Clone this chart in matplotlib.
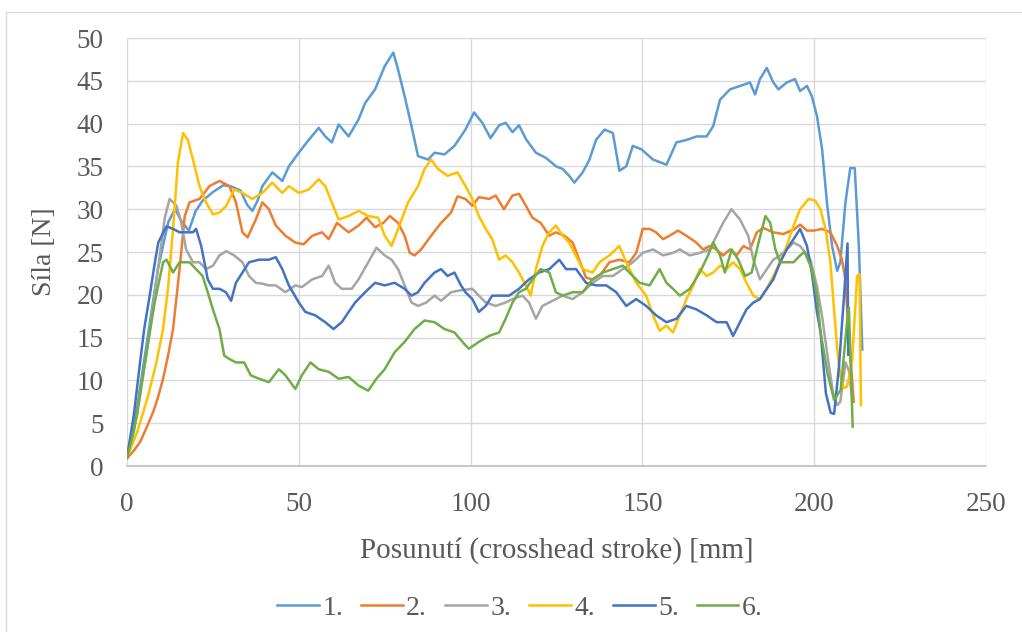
import matplotlib.pyplot as plt
from matplotlib.lines import Line2D

plt.rcParams['font.family'] = ['Liberation Serif', 'DejaVu Serif']

# posunuti [mm] a sila [N] pro jednotlive vzorky 1. az 6.
x1 = [0, 3, 6, 9, 12, 14, 16, 18, 20, 22, 25, 28, 30, 33, 35, 36.5, 38, 39.4, 42.3, 45.2, 47.1, 50,
      52.9, 55.8, 57.7, 59.6, 61.6, 64.5, 67.4, 69.3, 72.2, 75, 77.5, 78.9, 80.8, 82.8, 84.7, 87.6,
      89.5, 92.4, 95.3, 98.5, 101, 103.4, 105.8, 108.3, 110.2, 112.2, 114.1, 116.1, 119, 121.9,
      124.9, 126.8, 128.7, 130.2, 132.6, 134.6, 136.5, 139, 141.4, 143.3, 145.3, 147.2, 149.7,
      153.1, 157, 159.9, 162.9, 165.8, 168.7, 170.6, 172.6, 175.5, 178.4, 181.3, 182.8, 184.2,
      186.2, 188.1, 189.6, 192, 194.4, 195.9, 197.9, 199.3, 200.8, 202.3, 203.7, 205.2, 206.7,
      207.6, 209.1, 210.5, 211.8, 213, 214]
y1 = [1, 7, 15, 23, 28.5, 30, 28.5, 27.5, 29.8, 31, 32, 32.8, 32.7, 32.2, 30.5, 29.8, 31, 32.7, 34.3,
      33.3, 35, 36.6, 38.1, 39.5, 38.5, 37.8, 39.9, 38.5, 40.5, 42.4, 44, 46.7, 48.3, 46.3, 43.2,
      39.7, 36.2, 35.8, 36.6, 36.4, 37.4, 39.3, 41.3, 40.1, 38.3, 39.8, 40.1, 39, 39.8, 38.2, 36.6,
      36, 35, 34.7, 33.9, 33.1, 34.3, 35.8, 38.1, 39.3, 38.9, 34.5, 35, 37.4, 37, 35.8, 35.2, 37.8,
      38.1, 38.5, 38.5, 39.7, 42.8, 44, 44.4, 44.8, 43.4, 45.2, 46.5, 44.8, 44, 44.8, 45.2, 43.8,
      44.4, 43.2, 40.9, 37, 30.8, 25.7, 22.8, 23.8, 30.8, 34.8, 34.8, 25.7, 13.6]

x2 = [0, 2, 3.8, 5.5, 7.6, 9, 10.5, 12, 13.4, 15.3, 16.8, 18.2, 21.1, 24, 26.9, 29.8, 31.7, 33.6,
      35.1, 37.5, 39.4, 41.3, 43.3, 46.1, 49, 51.4, 53.9, 56.8, 58.7, 61.1, 64.5, 67.4, 69.7, 72.2,
      74.6, 76.5, 78.9, 80.8, 82.3, 83.7, 85.6, 88.5, 91.4, 94.3, 96.2, 98.5, 100.5, 102.4, 105.4,
      107.3, 109.7, 112.2, 114.1, 116.1, 118, 120.4, 122.9, 124.8, 127.3, 129.7, 131.6, 133.6,
      135.5, 137.9, 140.4, 143.3, 146.2, 148.2, 150.1, 152.1, 154, 156, 157.9, 160.4, 162.8,
      165.7, 167.6, 169.6, 171.5, 173.5, 175.5, 177.4, 179.4, 181.3, 183.3, 185.2, 188.1, 191,
      194, 195.9, 197.9, 199.9, 202.3, 204.7, 206.7, 208.1, 209, 210.3, 211.5]
y2 = [0.9, 1.8, 2.8, 4.3, 6.3, 8, 10.2, 13, 16, 23, 29.2, 30.8, 31.2, 32.7, 33.3, 32.7, 30.8, 27.3,
      26.7, 28.8, 30.8, 30, 28.1, 26.9, 26.1, 25.9, 26.9, 27.3, 26.5, 28.4, 27.3, 28.1, 29, 27.9,
      28.4, 29.2, 28.4, 26.9, 24.9, 24.6, 25.3, 26.9, 28.4, 29.6, 31.5, 31.2, 30.4, 31.4, 31.2,
      31.6, 30, 31.6, 31.8, 30.4, 29, 28.4, 26.9, 27.3, 26.9, 26.1, 24.1, 22, 21.8, 22.4, 23.8,
      24.1, 23.8, 24.9, 27.7, 27.7, 27.3, 26.5, 26.9, 27.5, 26.9, 26.1, 25.3, 25.7, 25.3, 24.6,
      25.3, 24.6, 25.7, 25.3, 27.3, 27.8, 27.3, 27.1, 27.6, 28.2, 27.5, 27.5, 27.7, 27.3, 25.7,
      24.1, 22, 14, 7.5]

x3 = [0, 3, 6, 9, 11, 12.4, 14.4, 15.8, 17.2, 19.2, 21.1, 23, 25, 26.9, 28.9, 31.2, 33.6, 35.5,
      37.5, 39.4, 41.3, 43.3, 46.1, 49, 50.9, 53.9, 56.8, 58.7, 60.6, 62.5, 65.4, 67.4, 70.2, 72.6,
      75, 77, 78.9, 80.8, 82.8, 84.7, 87.1, 89.5, 91.4, 94.3, 96.6, 100.5, 102.4, 104.4, 107.3,
      110.2, 112.2, 115.1, 117, 119, 120.9, 122.9, 124.8, 126.8, 129.7, 132.6, 135.5, 138.5,
      141.4, 144.3, 147.2, 150.1, 153.1, 156, 158.9, 160.9, 163.8, 166.7, 169.6, 171.6, 173.5,
      175.9, 178.4, 180.8, 182.3, 184.2, 186.2, 188.1, 190.1, 192, 194, 195.9, 198.9, 200.8,
      202.3, 204, 205.5, 206.7, 207.6, 209.1, 210.2, 211]
y3 = [1, 6, 14, 23, 29, 31.2, 30.4, 28.4, 25.3, 23.8, 23.8, 23, 23.4, 24.6, 25.1, 24.6, 23.8, 22.2,
      21.4, 21.3, 21.1, 21.1, 20.3, 21.1, 20.9, 21.8, 22.2, 23.4, 21.4, 20.7, 20.7, 21.8, 23.8,
      25.5, 24.6, 24.1, 23, 21.1, 19.1, 18.7, 19.1, 19.9, 19.3, 20.3, 20.5, 20.7, 19.9, 19.1, 18.7,
      19.1, 19.5, 19.9, 19.1, 17.2, 18.7, 19.1, 19.5, 19.9, 19.5, 20.3, 21.4, 22.2, 22.2, 23, 23.8,
      24.9, 25.3, 24.6, 24.9, 25.3, 24.6, 24.9, 25.3, 26.9, 28.4, 30, 28.8, 26.9, 24.1, 21.8, 23,
      24.1, 24.6, 25.3, 26.1, 25.7, 24.1, 21, 17.5, 12.5, 8.5, 7.1, 7.5, 12.1, 11, 8]

x4 = [0, 3, 6, 8.5, 10.5, 12, 13.4, 14.8, 16.3, 17.7, 19.2, 21.1, 23, 25, 26.9, 28.9, 31.2, 33.6,
      36.5, 39.4, 42.3, 45.2, 47.1, 50, 52.9, 55.8, 57.7, 59.6, 61.6, 64.5, 67.4, 70.2, 73.1, 75,
      77, 78.9, 81.8, 84.7, 86.6, 88.5, 90.5, 93.3, 96.2, 98.5, 100.5, 102.4, 104.4, 106.3, 108.3,
      110.2, 112.2, 114.1, 116.1, 117.5, 119, 120.9, 122.9, 124.8, 126.8, 128.7, 130.6, 132.6,
      135.5, 137.5, 140.4, 143.3, 145.3, 148.2, 151.1, 153.1, 155, 157, 158.9, 160.9, 162.8,
      164.8, 166.7, 168.7, 170.6, 172.6, 174.5, 176.4, 178.4, 180.3, 182.3, 184.2, 186.2, 188.1,
      190.1, 192, 194, 195.9, 198.4, 200.3, 201.8, 203.3, 204.7, 205.7, 206.7, 207.6, 208.6,
      209.6, 211, 212.5, 213.2, 213.6]
y4 = [1, 4, 8, 12, 16, 21, 27.7, 35.4, 38.9, 38.1, 35.8, 32.7, 30.8, 29.4, 29.6, 30.4, 32.3, 31.9,
      31.2, 31.9, 33.1, 31.9, 32.7, 31.9, 32.3, 33.5, 32.7, 30.8, 28.8, 29.2, 29.8, 29.2, 29, 26.9,
      25.7, 27.7, 30.8, 32.7, 34.7, 35.8, 34.7, 33.9, 34.3, 32.7, 31.2, 29.2, 27.7, 26.5, 24.1,
      24.6, 23.8, 22.6, 21.1, 19.9, 23, 25.7, 27.3, 28.1, 26.9, 26.1, 24.6, 23, 22.6, 23.8, 24.6,
      25.7, 23.8, 21.4, 19.9, 17.6, 15.8, 16.4, 15.6, 17.6, 19.5, 21.1, 23, 22.2, 22.6, 23.4, 23,
      23.8, 23, 21.4, 19.9, 19.5, 20.7, 22.2, 23.8, 25.7, 28.1, 30, 31.2, 31, 30, 27.7, 23.8, 18.7,
      13.7, 10.5, 9.1, 9.3, 12.1, 22.2, 22.4, 7.1]

x5 = [0, 2, 3.8, 5, 6.6, 8, 9.1, 11.5, 13.4, 15.3, 17.2, 19.2, 20.1, 21.6, 23.5, 25, 26.9, 28.8,
      30.3, 31.7, 33.6, 35.5, 38.4, 41.3, 43.3, 45.2, 47.1, 50, 51.9, 54.8, 57.7, 60.1, 62.5, 64.5,
      66.4, 69.3, 72.2, 75, 77.9, 80.8, 82.8, 84.7, 86.6, 89.5, 91.4, 93.3, 95.3, 97.2, 98.5,
      100.5, 102.4, 104.4, 106.3, 108.3, 111.2, 114.1, 117, 119.9, 122.9, 125.8, 127.8, 130.7,
      133.6, 136.5, 139.5, 142.4, 145.3, 148.2, 151.1, 154, 157, 159.9, 162.8, 165.7, 168.7,
      171.6, 174.5, 176.4, 178.4, 180.3, 182.3, 184.2, 186.2, 188.1, 190.1, 192, 194, 195.9,
      197.9, 199.3, 200.8, 201.9, 203.4, 204.8, 205.8, 207.2, 208.6, 209.7, 209.9]
y5 = [1, 6, 12.1, 16, 19.9, 23.5, 26.1, 28, 27.7, 27.3, 27.3, 27.3, 27.7, 25.7, 21.8, 20.7, 20.7,
      20.3, 19.3, 21.4, 22.6, 23.8, 24.1, 24.1, 24.4, 23, 21.1, 19.1, 18, 17.6, 16.8, 16, 16.8, 18,
      19.1, 20.3, 21.4, 21.1, 21.4, 20.7, 19.9, 20.3, 21.4, 22.6, 23, 22.2, 22.6, 21.1, 20.3, 19.5,
      18, 18.7, 19.9, 19.9, 19.9, 20.7, 21.8, 22.6, 23, 24.1, 23, 23, 21.4, 21.1, 21.1, 20.3, 18.7,
      19.5, 18.7, 17.6, 16.8, 17.2, 18.7, 18.3, 17.6, 16.8, 16.8, 15.2, 16.8, 18.3, 19.1, 19.5,
      20.7, 21.8, 23.8, 25.3, 26.5, 27.7, 25.7, 22.6, 18, 15.5, 8.5, 6.2, 6.1, 11.6, 19.4, 26, 13]

x6 = [0, 2, 4, 6, 8, 10.5, 11.5, 13.4, 15.3, 18.2, 20.1, 22, 23.5, 25, 26.9, 28.3, 29.8, 31.7, 34.1,
      36, 38.4, 41.3, 44.2, 46.1, 49, 50.9, 53.4, 55.8, 58.7, 61.6, 64.5, 67.4, 70.2, 72.6, 75,
      77.9, 80.8, 83.7, 86.6, 89.5, 92.4, 95.3, 98.5, 99.5, 102.4, 105.4, 108.3, 110.2, 112.2,
      114.1, 116.1, 118, 120.4, 122.9, 124.8, 126.8, 129.7, 132.6, 135.5, 138.5, 141.4, 144.3,
      146.2, 149.2, 152.1, 155, 157, 158.9, 160.9, 163.8, 166.7, 169.1, 170.6, 172.6, 174, 176,
      177.9, 179.9, 181.8, 183.8, 185.8, 187.2, 188.7, 190.1, 192, 194, 195.9, 197.2, 199.3,
      200.8, 201.9, 203.9, 205.8, 207.7, 209.7, 210.1, 211.2]
y6 = [1, 4, 9, 14, 19, 23.8, 24.1, 22.6, 23.8, 23.8, 23, 22.2, 20.3, 18.3, 16, 12.9, 12.5, 12.1,
      12.1, 10.6, 10.2, 9.8, 11.3, 10.6, 9, 10.6, 12.1, 11.3, 11, 10.2, 10.4, 9.4, 8.8, 10.2, 11.3,
      13.3, 14.5, 16, 17, 16.8, 16, 15.6, 14.1, 13.7, 14.5, 15.2, 15.6, 17.2, 19.1, 20.3, 20.7,
      21.8, 23, 22.6, 20.3, 19.9, 20.3, 20.3, 21.8, 22.6, 23, 23.4, 22.6, 21.4, 21.1, 23, 21.4,
      20.7, 19.9, 20.7, 22.6, 24.6, 26.1, 24.6, 22.6, 25.3, 24.1, 22.2, 22.6, 26.1, 29.2, 28.4,
      25.3, 23.8, 23.8, 23.8, 24.6, 25, 23, 19.9, 15.5, 10.8, 7.7, 8.9, 17.4, 18.5, 4.6]

series = [(x1, y1, '1.'), (x2, y2, '2.'), (x3, y3, '3.'),
          (x4, y4, '4.'), (x5, y5, '5.'), (x6, y6, '6.')]
colors = ['#5B9BD5', '#ED7D31', '#A5A5A5', '#FFC000', '#4472C4', '#70AD47']
text_col = '#595959'

fig = plt.figure(figsize=(10.22, 6.32), dpi=100)
ax = fig.add_axes([127 / 1022, 1 - 466 / 632, 859 / 1022, 428 / 632])

for (xs, ys, name), c in zip(series, colors):
    ax.plot(xs, ys, color=c, lw=1.8, label=name, solid_joinstyle='round')

ax.set_xlim(0, 250)
ax.set_ylim(0, 50)
ax.set_xticks(range(0, 251, 50))
ax.set_yticks(range(0, 51, 5))
ax.grid(True, color='#D9D9D9', lw=1.0)
ax.set_axisbelow(True)
for s in ['top', 'right', 'left']:
    ax.spines[s].set_visible(False)
ax.spines['bottom'].set_color('#BFBFBF')
ax.spines['bottom'].set_linewidth(1.2)
ax.tick_params(length=0, labelsize=19.5, labelcolor=text_col)
ax.tick_params(axis='y', pad=17)
ax.tick_params(axis='x', pad=19)

ax.set_xlabel('Posunutí (crosshead stroke) [mm]', fontsize=21, color=text_col, labelpad=14)
ax.set_ylabel('Síla [N]', fontsize=20, color=text_col, labelpad=14)

fig.legend(loc='center', bbox_to_anchor=(520 / 1022, 1 - 608 / 632), ncol=6, frameon=False,
           fontsize=20, handlelength=1.5, handletextpad=0.12, columnspacing=0.65,
           labelcolor=text_col)

# tenky ramecek grafu nahore a vlevo
fig.add_artist(Line2D([6 / 1022, 1], [1 - 12 / 632, 1 - 12 / 632], color='#D9D9D9', lw=1))
fig.add_artist(Line2D([6 / 1022, 6 / 1022], [0, 1 - 12 / 632], color='#D9D9D9', lw=1))

fig.savefig('out.png', dpi=100)
